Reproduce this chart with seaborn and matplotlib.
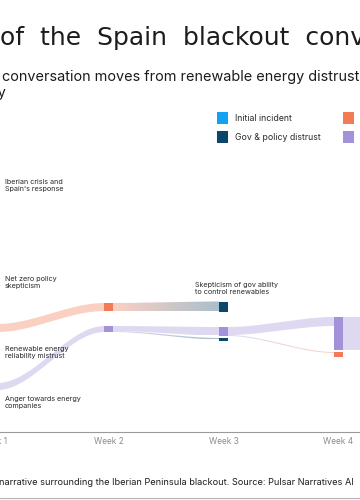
import numpy as np
import matplotlib
matplotlib.use("Agg")
import matplotlib.pyplot as plt
from matplotlib.path import Path
from matplotlib.patches import PathPatch, Rectangle
from matplotlib.lines import Line2D
from matplotlib.colors import to_rgb
import seaborn as sns

# 1 Data
week_labels = ['Week 1', 'Week 2', 'Week 3', 'Week 4']
weeks = [1, 2, 3, 4]

categories = ['Initial incident', 'Net zero skepticism',
              'Gov & policy distrust', 'Renewable energy distrust']

# nodes: week, narrative category, size of the conversation
node_week = [1, 1, 1, 1, 2, 2, 3, 3, 3, 4, 4, 5]
node_cat = [0, 1, 3, 3, 1, 3, 2, 3, 2, 3, 1, 3]
node_value = [20, 8, 8, 2, 8, 6, 10.5, 9, 2.5, 33, 5, 33]

# flows between nodes: source, target, value leaving, value arriving
flow_src = [1, 2, 4, 5, 5, 7, 7, 9]
flow_dst = [4, 5, 6, 7, 8, 9, 10, 11]
flow_out = [8, 7, 8, 5, 1, 8, 1, 33]
flow_in = [8, 6, 10, 8.5, 1.5, 9, 1, 33]

week1_labels = ["Iberian crisis and\nSpain's response",
                'Net zero policy\nskepticism',
                'Renewable energy\nreliability mistrust',
                'Anger towards energy\ncompanies']
week3_label = 'Skepticism of gov ability\nto control renewables'

# 2 Layout and style
node_top = [175, 324, 383, 415, 303, 326, 301.5, 327, 338, 317, 352, 317]
palette = sns.color_palette(['#12a2f2', '#f27a55', '#0c466b', '#a391d9'])

sns.set_theme(style='white')
plt.rcParams['font.family'] = ['Inter', 'DejaVu Sans']

W, H = 360, 500
fig = plt.figure(figsize=(3.6, 5), dpi=100)


def fx(x):
    return x / W


def fy(y):
    return 1 - y / H


# chart axes: x in weeks, y in px-like units (top down)
ax = fig.add_axes([0, fy(432), 1, 432 / H])
px_per_week = 115
hw = 4.2 / px_per_week


def band(x0, x1, t0, b0, t1, b1, c0, c1, alpha=0.35):
    xs = np.linspace(x0, x1, 100)
    u = (xs - x0) / (x1 - x0)
    s = 3 * u ** 2 - 2 * u ** 3
    top = t0 + (t1 - t0) * s
    bot = b0 + (b1 - b0) * s
    verts = np.vstack([np.column_stack([xs, top]),
                       np.column_stack([xs[::-1], bot[::-1]])])
    patch = PathPatch(Path(verts), facecolor='none', edgecolor='none')
    ax.add_patch(patch)
    g = np.linspace(0, 1, 128)[:, None]
    rgb = (1 - g) * np.array(to_rgb(c0)) + g * np.array(to_rgb(c1))
    rgb = alpha * rgb + (1 - alpha)
    img = ax.imshow(rgb[None, :, :], extent=(x0, x1, bot.max(), top.min()),
                    aspect='auto', interpolation='bilinear', zorder=1)
    img.set_clip_path(patch)


out_off = [0.0] * len(node_week)
in_off = [0.0] * len(node_week)
for s, d, vo, vi in zip(flow_src, flow_dst, flow_out, flow_in):
    t0 = node_top[s] + out_off[s]
    out_off[s] += vo
    t1 = node_top[d] + in_off[d]
    in_off[d] += vi
    band(node_week[s] + hw, node_week[d] - hw, t0, t0 + vo, t1, t1 + vi,
         palette[node_cat[s]], palette[node_cat[d]])

for w, c, v, t in zip(node_week, node_cat, node_value, node_top):
    ax.add_patch(Rectangle((w - hw, t), 2 * hw, v, color=palette[c],
                           lw=0, zorder=3))

ax.set_xticks([])
ax.set_yticks([])
x_left = 2 - 108.5 / px_per_week
ax.set_xlim(x_left, x_left + W / px_per_week)
ax.set_ylim(432, 0)
# week labels under the axis line (week 1 sits partly off the left edge)
for w, lab in zip(weeks, week_labels):
    ax.text(w, 441, lab, ha='center', va='center', fontsize=6,
            color='#8c8c8c', clip_on=False)
for side in ['top', 'left', 'right']:
    ax.spines[side].set_visible(False)
ax.spines['bottom'].set_color('#9a9a9a')
ax.spines['bottom'].set_linewidth(0.8)
ax.patch.set_alpha(0)

# node labels
label_tops = [179, 276, 346, 396]
for lab, t in zip(week1_labels, label_tops):
    fig.text(fx(5), fy(t), lab, fontsize=5.2, color='#2a2a2a', va='top',
             linespacing=1.25)
fig.text(fx(195), fy(282), week3_label, fontsize=5.2, color='#2a2a2a',
         va='top', linespacing=1.25)

# title and subtitle
fig.text(fx(0), fy(45), 'of  the  Spain  blackout  conversation',
         fontsize=18, family='DejaVu Sans', color='#1c1c1c', va='baseline')
fig.text(fx(2), fy(81), 'conversation moves from renewable energy distrust to',
         fontsize=10.4, color='#1c1c1c', va='baseline')
fig.text(fx(7), fy(97), 'policy', fontsize=10.4, color='#1c1c1c',
         va='baseline', ha='right')

# legend
legend_items = [(0, 217, 112), (1, 343, 112), (2, 217, 131), (3, 343, 131)]
for c, x, y in legend_items:
    fig.patches.append(Rectangle((fx(x), fy(y + 12)), 11 / W, 12 / H,
                                 transform=fig.transFigure,
                                 color=palette[c], lw=0))
    if x < 300:
        fig.text(fx(235), fy(y + 9), categories[c], fontsize=6.3,
                 color='#2a2a2a', va='baseline')

# footer
fig.text(fx(-1), fy(485),
         'narrative surrounding the Iberian Peninsula blackout. '
         'Source: Pulsar Narratives AI',
         fontsize=6.6, color='#1c1c1c', va='baseline')
fig.lines.append(Line2D([0, 1], [fy(498), fy(498)], transform=fig.transFigure,
                        color='#b5b5b5', lw=0.8))

fig.savefig('out.png', dpi=100, facecolor='white')
